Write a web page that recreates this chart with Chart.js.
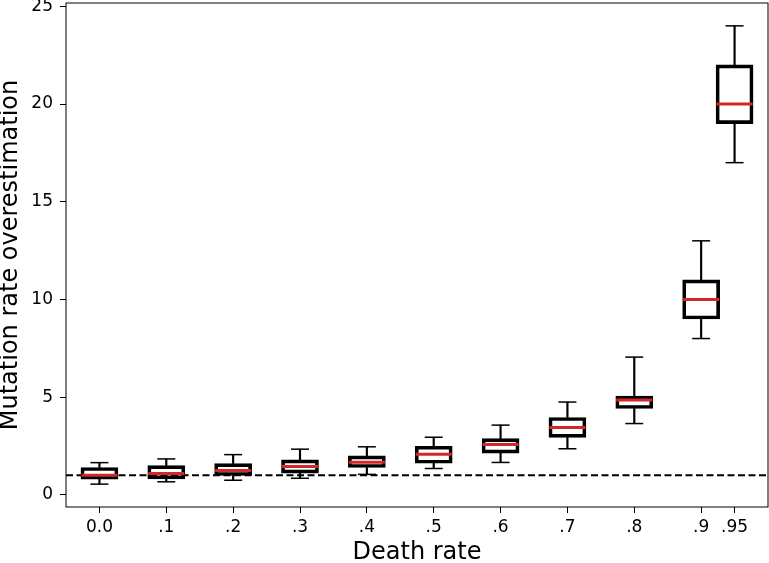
<!DOCTYPE html>
<html>
<head>
<meta charset="utf-8">
<script src="https://cdn.jsdelivr.net/npm/chart.js@4"></script>
<style>
  html, body { margin: 0; padding: 0; background: #fff; }
</style>
</head>
<body>
<canvas id="boxChart" width="769" height="563"></canvas>
<script>
// death rate positions and their tick labels
const positions = [0, 0.1, 0.2, 0.3, 0.4, 0.5, 0.6, 0.7, 0.8, 0.9, 0.95];
const tickLabels = ['0.0', '.1', '.2', '.3', '.4', '.5', '.6', '.7', '.8', '.9', '.95'];
const yTicks = [0, 5, 10, 15, 20, 25];

// box plot stats
const whiskerLow  = [0.55, 0.67, 0.75, 0.85, 1.05, 1.35, 1.66, 2.36, 3.65, 8, 17];
const q1          = [0.8, 0.82, 0.99, 1.11, 1.4, 1.62, 2.14, 2.94, 4.42, 9, 19];
const median      = [1.0, 1.1, 1.25, 1.45, 1.67, 2.08, 2.58, 3.45, 4.85, 10, 20];
const q3          = [1.4, 1.5, 1.6, 1.79, 2.0, 2.49, 2.88, 3.96, 5.06, 11, 22];
const whiskerHigh = [1.65, 1.84, 2.06, 2.34, 2.46, 2.95, 3.57, 4.75, 7.05, 13, 24];
const refLevel = 1;

const xMin = -0.05, xMax = 1.0;
const font = "'DejaVu Sans', sans-serif";

const pts = (arr) => positions.map((x, i) => ({ x: x, y: arr[i] }));
const ranges = (a, b) => positions.map((x, i) => ({ x: x, y: [a[i], b[i]] }));

// black frame round the plot area, on top of the data
const frame = {
  id: 'frame',
  afterDatasetsDraw(chart) {
    const { ctx, chartArea: a } = chart;
    ctx.save();
    ctx.strokeStyle = '#000';
    ctx.lineWidth = 1;
    ctx.strokeRect(a.left, a.top, a.right - a.left, a.bottom - a.top);
    ctx.restore();
  }
};

new Chart(document.getElementById('boxChart'), {
  type: 'bar',
  data: {
    datasets: [
      {
        type: 'line', label: 'median', data: pts(median), order: 0,
        showLine: false, pointStyle: 'line', pointRadius: 18,
        pointBorderWidth: 3, pointBorderColor: '#d62728', borderColor: '#d62728'
      },
      {
        label: 'box', data: ranges(q1, q3), order: 1, grouped: false,
        barThickness: 37, backgroundColor: 'rgba(0,0,0,0)',
        borderColor: '#000', borderWidth: 3, borderSkipped: false
      },
      {
        label: 'lower whisker', data: ranges(whiskerLow, q1), order: 2, grouped: false,
        barThickness: 1.5, backgroundColor: '#000', borderWidth: 0
      },
      {
        label: 'upper whisker', data: ranges(q3, whiskerHigh), order: 2, grouped: false,
        barThickness: 1.5, backgroundColor: '#000', borderWidth: 0
      },
      {
        type: 'line', label: 'caps', data: pts(whiskerLow).concat(pts(whiskerHigh)), order: 2,
        showLine: false, pointStyle: 'line', pointRadius: 9,
        pointBorderWidth: 1.5, pointBorderColor: '#000', borderColor: '#000'
      },
      {
        type: 'line', label: 'reference', order: 5,
        data: [{ x: xMin, y: refLevel }, { x: xMax, y: refLevel }],
        borderColor: '#000', borderWidth: 2, borderDash: [7, 3.5],
        pointRadius: 0, fill: false
      }
    ]
  },
  options: {
    responsive: false,
    animation: false,
    events: [],
    layout: { autoPadding: false, padding: { top: 3, right: 1, left: 0, bottom: 0 } },
    plugins: { legend: { display: false }, tooltip: { enabled: false } },
    scales: {
      x: {
        type: 'linear', min: xMin, max: xMax, offset: false,
        afterBuildTicks: (s) => { s.ticks = positions.map(v => ({ value: v })); },
        afterFit: (s) => {
          s.height = 56;
          s.paddingLeft = 0; s.paddingRight = 0;
        },
        ticks: {
          autoSkip: false, maxRotation: 0, padding: 4, color: '#000',
          font: { family: font, size: 17 },
          callback: (v, i) => tickLabels[i]
        },
        grid: {
          display: true, drawOnChartArea: false, drawTicks: true,
          tickLength: 6, tickColor: '#000', tickWidth: 1, offset: false
        },
        border: { display: false },
        title: {
          display: true, text: 'Death rate', color: '#000',
          font: { family: font, size: 24 }, padding: { top: 0, bottom: -4 }
        }
      },
      y: {
        type: 'linear', min: -0.62, max: 25.17,
        afterBuildTicks: (s) => { s.ticks = yTicks.map(v => ({ value: v })); },
        afterFit: (s) => {
          s.width = 66;
          s.paddingTop = 0; s.paddingBottom = 0;
        },
        ticks: { padding: 7, color: '#000', font: { family: font, size: 17 } },
        grid: {
          display: true, drawOnChartArea: false, drawTicks: true,
          tickLength: 6, tickColor: '#000', tickWidth: 1
        },
        border: { display: false },
        title: {
          display: true, text: 'Mutation rate overestimation', color: '#000',
          font: { family: font, size: 24 }, padding: { top: -4, bottom: 0 }
        }
      }
    }
  },
  plugins: [frame]
});
</script>
</body>
</html>
